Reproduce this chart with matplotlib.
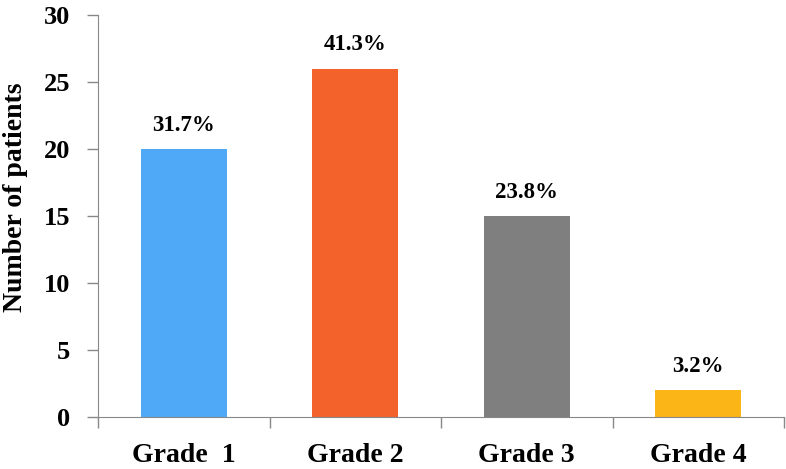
import matplotlib.pyplot as plt

plt.rcParams['font.family'] = ['Liberation Serif', 'DejaVu Serif']
plt.rcParams['font.weight'] = 'bold'

grades = ['Grade  1', 'Grade 2', 'Grade 3', 'Grade 4']
patients = [20, 26, 15, 2]
percents = ['31.7%', '41.3%', '23.8%', '3.2%']
colors = ['#4FA9F6', '#F2622A', '#7F7F7F', '#FBB516']

fig = plt.figure(figsize=(7.86, 4.69), dpi=100)
ax = fig.add_axes([0.1247, 0.111, 0.8728, 0.857])

x = range(len(grades))
ax.bar(x, patients, width=0.5, color=colors)
for i, (v, p) in enumerate(zip(patients, percents)):
    ax.text(i, v + 1.0, p, ha='center', va='bottom', fontsize=16.5, fontweight='bold')

ax.set_xlim(-0.5, len(grades) - 0.5)
ax.set_ylim(0, 30)
ax.set_yticks(range(0, 31, 5))
ax.set_xticks(list(x))
ax.set_xticklabels(grades, fontsize=20, fontweight='bold')
ax.set_xticks([i - 0.5 for i in range(len(grades) + 1)], minor=True)
ax.tick_params(axis='x', which='major', length=0, pad=19)
ax.tick_params(axis='x', which='minor', length=8, color='#888888', width=1)
ax.tick_params(axis='y', length=8, color='#888888', width=1, labelsize=19, pad=12)
for lbl in ax.get_yticklabels():
    lbl.set_fontweight('bold')
ax.set_ylabel('Number of patients', fontsize=20, fontweight='bold')
ax.yaxis.set_label_coords(-0.102, 0.547)

for side in ['top', 'right']:
    ax.spines[side].set_visible(False)
for side in ['left', 'bottom']:
    ax.spines[side].set_color('#888888')

fig.savefig('out.png', dpi=100)
